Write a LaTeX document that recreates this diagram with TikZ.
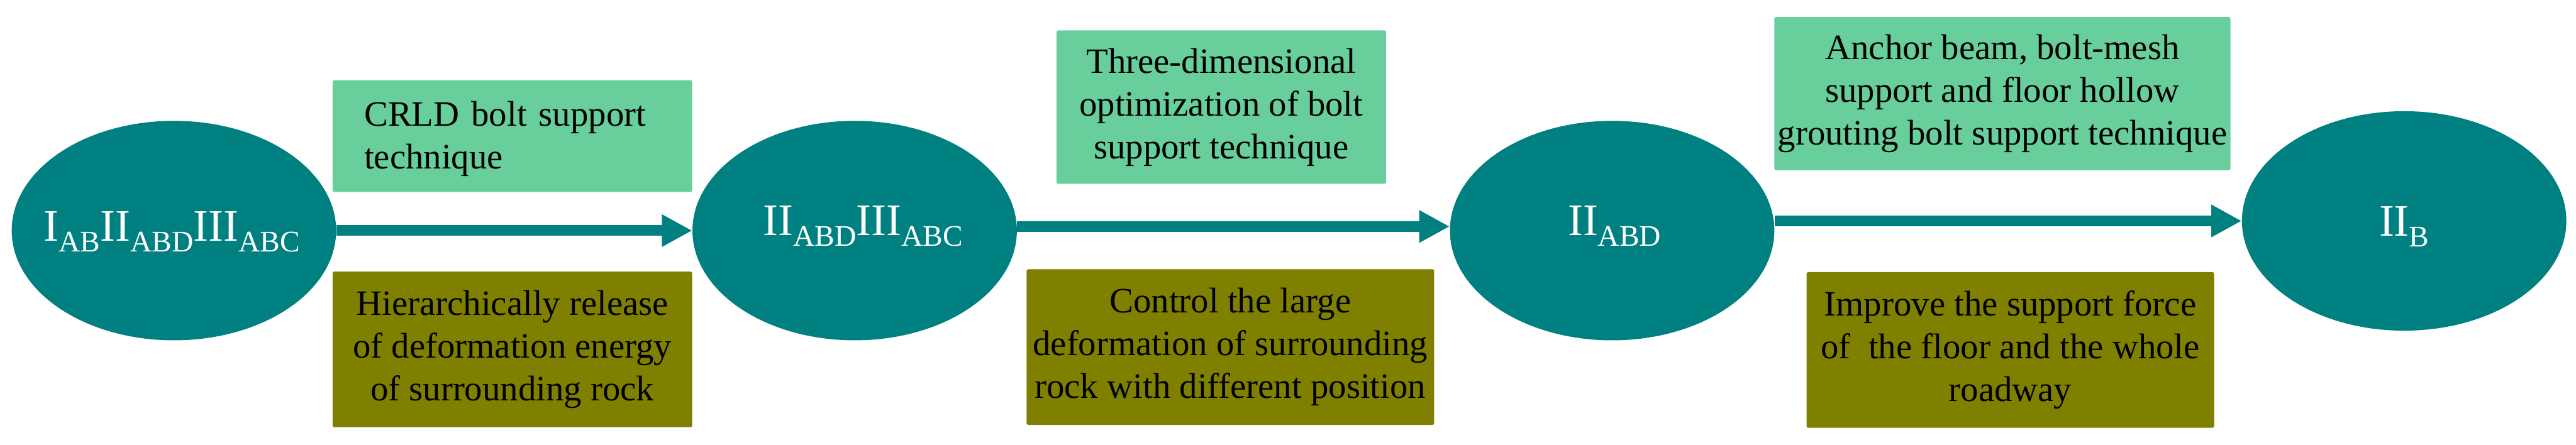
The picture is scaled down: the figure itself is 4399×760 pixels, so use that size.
\documentclass[tikz,border=0pt]{standalone}
\usepackage{fontspec}
\setmainfont{Liberation Serif}
\usetikzlibrary{arrows.meta,shapes.geometric}
\definecolor{stagecol}{RGB}{0,128,128}
\definecolor{techcol}{RGB}{104,206,156}
\definecolor{effcol}{RGB}{128,128,0}
\newcommand\sbs[1]{\raisebox{-9pt}{\fontsize{25.5}{26}\selectfont #1}}
\newcommand\boxfont{\fontsize{30.5}{36.5}\selectfont}
\newcommand\stagefont{\fontsize{38.5}{40}\selectfont}
\begin{document}
\begin{tikzpicture}[x=0.5pt,y=-0.5pt,
  stage/.style={ellipse, fill=stagecol, draw=none, minimum width=277pt, minimum height=187.5pt, inner sep=0pt},
  stagelbl/.style={text=white, font=\stagefont, inner sep=0pt, anchor=base},
  techbox/.style={fill=techcol, rounded corners=1.5pt, inner sep=0pt, font=\boxfont, align=center, minimum height=131pt},
  effbox/.style={fill=effcol, rounded corners=1.5pt, inner sep=0pt, font=\boxfont, align=center, minimum height=133pt},
  flow/.style={draw=stagecol, line width=9pt, -{Triangle[length=26pt,width=26pt]}}
]
\fill[white] (0,0) rectangle (4399,760);
\useasboundingbox (0,0) rectangle (4399,760);

% stages
\node[stage] (e1) at (297,394) {};
\node[stage] (e2) at (1459.5,394) {};
\node[stage] (e3) at (2753,394) {};
\node[stage] (e4) at (4105.5,377.5) {};

\node[stagelbl] (t1) at (293.5,412) {I\sbs{AB}II\sbs{ABD}III\sbs{ABC}};
\node[stagelbl] (t2) at (1474,402) {II\sbs{ABD}III\sbs{ABC}};
\node[stagelbl] (t3) at (2757,402) {II\sbs{ABD}};
\node[stagelbl] (t4) at (4105.5,403) {II\sbs{B}};

% technique boxes
\node[techbox, minimum width=307pt, minimum height=95.5pt, text width=253pt, align=left] (g1) at (875,232.5)
  {\rule{0pt}{26pt}CRLD bolt support\\technique};
\node[techbox, minimum width=281.5pt] (g2) at (2085.5,183)
  {Three-dimensional\\optimization of bolt\\support technique};
\node[techbox, minimum width=389.5pt] (g3) at (3419.5,160)
  {Anchor beam, bolt-mesh\\support and floor hollow\\grouting bolt support technique};

% effect boxes
\node[effbox, minimum width=307pt] (o1) at (875,597)
  {Hierarchically release\\of deformation energy\\of surrounding rock};
\node[effbox, minimum width=348pt] (o2) at (2101,593)
  {Control the large\\deformation of surrounding\\rock with different position};
\node[effbox, minimum width=348pt] (o3) at (3433,598)
  {Improve the support force\\of\ \ the floor and the whole\\roadway};

% connectors
\draw[flow] (e1) -- (e2);
\draw[flow] ([yshift=3.5pt]e2.east) -- ([yshift=3.5pt]e3.west);
\draw[flow] (e4.west -| e3.east) -- (e4.west);
\end{tikzpicture}
\end{document}
